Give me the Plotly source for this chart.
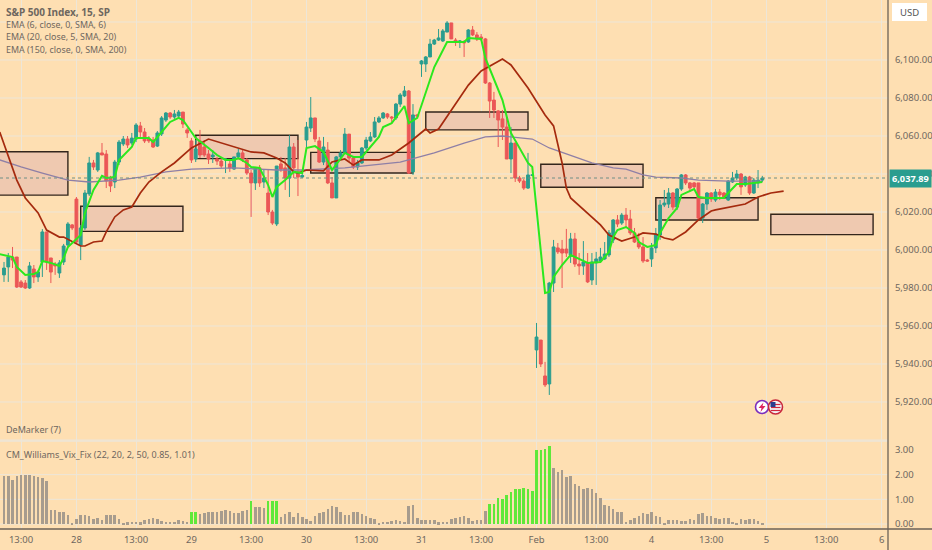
import plotly.graph_objects as go

# ---------- candles: one entry per 15-minute bar, in index points ----------
opens = [5986.9,5991.1,5996.3,5996.3,5983.2,5982.6,5980,5990,5985.8,5993.7,6009.5,5995.8,5992.6,5987.9,5993.7,6002.6,6013.2,6026.8,6002.6,6011.6,
6029.5,6045.8,6042.1,6051.1,6050.5,6037.9,6035.8,6046.3,6055.8,6058.4,6056.3,6058.4,6065.3,6062.1,6058.4,6057.9,6054.7,6061.1,6068.4,6072.1,
6070,6070.5,6072.6,6063.2,6057.4,6047.9,6057.4,6054.2,6050.5,6049,6047.9,6046.8,6047.4,6045.3,6042.6,6049,6051.1,6047.4,6040.5,6035.3,
6043.2,6035.8,6030,6020,6013.7,6045.3,6043.2,6037.9,6054.2,6041.1,6038.4,6057.9,6064.2,6069.5,6057.4,6046.3,6052.6,6035.3,6027.4,6049,
6051.1,6061,6048.4,6043.7,6045.8,6053.7,6057.4,6059.5,6067.4,6069.5,6071.6,6070,6069.5,6076.8,6081.1,6083.7,6041.1,6071.1,6097.9,6097.9,
6101.6,6108.4,6110.5,6110,6114.7,6119.5,6110.5,6109.5,6109.7,6109.5,6115.8,6113.2,6112.1,6111.1,6087.9,6078.9,6073.2,6069,6064.7,6047.9,
6056.3,6037.9,6036.3,6032.6,6039.3,5947.4,5952.6,5933.7,5929.5,5982.6,6001.1,6000.5,6000.5,5997.4,6005.8,5992.6,5991.6,5993.2,5984.2,5993.2,
5994.2,5995.3,5997.4,6005.3,6015.8,6014.2,6018.4,6016.3,6009,6004.2,6001.6,5994.7,5995.3,6001.1,6007.9,6023.7,6024.2,6030,6022.6,6032.1,
6039.5,6035.3,6035.3,6035.3,6016.8,6024.2,6030,6026.3,6030.5,6030,6026.3,6035.8,6037.9,6040,6034.2,6038.4,6030,6035.3,6036.8]
highs = [5993.7,5998.4,6001.6,5996.3,5984.2,5984.2,5993.7,5992.1,5989.5,6011,6009.5,5995.8,5993.7,5994.7,6003.2,6014.7,6013.7,6027.9,6013.2,6031.6,
6049,6047.4,6051.6,6056.3,6052.6,6039,6047.4,6057.9,6060,6060,6061.6,6066.8,6067.4,6064.2,6060,6059.5,6062.6,6070.5,6072.6,6072.6,
6073.7,6073.7,6072.6,6064.2,6059,6057.9,6063.2,6057.9,6052.6,6052.6,6049,6048.4,6048.4,6047.4,6049,6053.2,6052.6,6048.4,6042.1,6043.7,
6044.7,6042.1,6042.1,6021.1,6044.2,6049,6048.4,6060.5,6056.3,6057.9,6041.1,6067.4,6080.5,6069.5,6059.5,6059.5,6056.8,6038.4,6049.5,6052.6,
6064.2,6061,6049.5,6047.4,6054.2,6059.5,6062.1,6070,6070.5,6072.6,6072.1,6070.5,6077.4,6082.6,6086.3,6084.2,6076.8,6071.6,6100,6102.1,
6111.1,6111.1,6116.3,6116.3,6120.5,6119.5,6111.6,6110.5,6110.5,6116.3,6117.9,6114.7,6113.7,6111.6,6088.4,6083.2,6073.7,6073.7,6069.5,6064.7,
6056.3,6039,6037.4,6051.1,6039.6,5961.6,5952.6,5941.1,5983.2,6005.3,6003.7,6005.3,6011.1,6009,6009,5998.4,6004.7,5998.4,5998.4,5999,
6001.1,6004.2,6010.5,6016.3,6018.4,6019.5,6022.1,6021.1,6011.6,6009,6006.8,5995.3,6003.7,6011.6,6026.3,6031.6,6032.6,6030.5,6032.6,6040,
6040,6035.8,6035.8,6035.3,6024.7,6030.5,6030.5,6032.1,6032.1,6030.5,6036.8,6041.1,6042.1,6040.5,6039,6039,6037.9,6042.1,6039]
lows = [5983.2,5983.2,5990.5,5980,5980,5979.5,5979.5,5982.6,5983.2,5985.8,5989.5,5982.6,5986.9,5985.3,5992.1,6001.1,6010.5,6003.7,5994.7,6010.5,
6028.4,6042.1,6041.1,6050,6032.6,6030.5,6032.6,6044.7,6054.7,6053.7,6055.3,6056.8,6059.5,6056.3,6056.3,6053.7,6054.2,6060,6067.4,6069,
6069,6069.5,6064.2,6059,6045.8,6046.3,6048.4,6049,6045.3,6045.8,6044.7,6043.2,6040.5,6041.1,6042.1,6047.9,6046.3,6039.5,6017.4,6031.6,
6033.2,6032.6,6018.4,6013.2,6012.6,6041.1,6031.6,6027.9,6037.9,6028.4,6037.9,6053.7,6062.1,6056.8,6045.8,6044.7,6034.7,6027.4,6027.4,6048.4,
6050.5,6046.3,6042.6,6042.1,6045.3,6052.6,6056.8,6059,6066.8,6069,6069,6067.4,6068.4,6075.3,6080.5,6040,6039.5,6070,6091.1,6093.7,
6101.6,6107.9,6110,6109.5,6114.7,6111.1,6107.4,6106.3,6101.6,6109,6112.6,6110,6110,6087.4,6069.5,6069.5,6054.2,6057.9,6047.9,6040.5,
6035.8,6035.3,6031.6,6032.1,6039.2,5937.9,5938.4,5927.9,5923.7,5977.9,5997.9,5980,5996.3,5993.2,5991.1,5986.9,5986.9,5982.6,5981.6,5981.6,
5993.2,5994.7,5996.3,6003.7,6012.1,6013.2,6012.1,6007.9,6003.7,6000.5,5993.2,5993.7,5991.1,5998.4,6005.3,6022.6,6022.1,6021.1,6021.1,6031.1,
6034.2,6030.5,6031.6,6016.3,6014.2,6021.1,6025.3,6025.3,6026.3,6026.8,6025.8,6035.3,6036.8,6029,6033.2,6029,6029.5,6032.6,6035.8]
closes = [5990.5,5996.3,5994.7,5980.5,5980.5,5980,5991.6,5985.8,5988.4,6009.5,5993.7,5988.4,5991.6,5993.2,6002.1,6013.7,6011.6,6004.2,6011.6,6030,
6045.8,6043.7,6051.1,6050,6036.3,6033.7,6046.3,6056.8,6058.4,6055.3,6058.9,6065.8,6062.1,6057.4,6057.4,6054.2,6061.6,6069.5,6072.1,6070,
6071.6,6072.6,6066.3,6061.6,6047.4,6053.2,6050,6050,6047.9,6050,6046.8,6044.2,6047.9,6043.2,6049,6051.1,6047.9,6040.5,6035.3,6043.2,
6035.3,6037.9,6020,6014.2,6044.2,6042.6,6037.9,6054.2,6043.2,6038.4,6039.2,6064.7,6069.5,6058.4,6046.3,6054.2,6035.3,6027.4,6049,6051.1,
6061,6048.4,6043.7,6045.8,6053.7,6057.9,6059.5,6067.4,6069.5,6072.1,6070,6069.5,6076.8,6081.6,6083.7,6040.5,6071.1,6070.5,6099.5,6101.6,
6108.4,6110.5,6111.6,6115.3,6119.5,6111.1,6109.5,6110,6109,6115.8,6113.2,6111.1,6111.1,6087.9,6078.4,6073.7,6068.4,6064.7,6047.9,6056.3,
6037.9,6036.3,6032.6,6039.5,6039.5,5954.2,5940,5929,5982.6,6001.6,5999,5998.4,5998.4,6005.8,5992.6,5991.6,5993.7,5983.2,5993.7,5995.3,
5996.3,5997.9,6009,6015.8,6013.7,6018.4,6015.8,6009,6004.2,6001.6,5994.2,5994.2,6001.1,6008.4,6023.7,6024.7,6030,6022.6,6032.1,6039.5,
6035.3,6032.6,6033.2,6016.8,6024.2,6030,6026.8,6030.5,6029,6027.9,6036.3,6037.9,6040,6033.2,6038.4,6030,6036.8,6036.8,6037.89]

# ---------- moving averages (bar index, price) ----------
ema6_bars = [-1,2,3,5,7,8,9,11,13,14,15,18,19,21,23,24,26,27,30,31,34,35,37,39,41,42,44,45,48,50,52,54,55,57,58,60,62,63,64,66,68,70,71,73,75,77,80,82,84,88,89,91,94,95,97,101,104,108,109,112,113,117,119,123,124,127,128,129,131,133,137,140,142,143,144,146,148,149,151,153,154,156,158,159,162,163,165,169,170,172,174,178]
ema6_vals = [5997.8,5996.3,5991.1,5986.9,5987.4,5988.4,5994.2,5993.2,5991.6,5995.8,6001.6,6007.9,6019.5,6031.6,6039,6037.9,6038.4,6047.4,6054.2,6058.9,6058.9,6056.8,6062.1,6067.4,6069.5,6068.4,6062.1,6058.9,6053.7,6050,6047.4,6047.4,6048.4,6045.8,6043.7,6043.2,6034.2,6027.9,6033.2,6036.8,6041.1,6040.5,6053.7,6054.7,6051.6,6042.1,6051.1,6049,6049,6059.5,6064.7,6066.8,6075.8,6066.8,6069.5,6096.3,6109.5,6109.5,6111.6,6111.1,6101,6078.9,6061.6,6045.8,6043.7,5977.4,5977.9,5985.8,5992.1,5997.4,5993.2,5993.7,5999,6006.8,6010.5,6012.1,6009,6004.2,6001.6,6002.6,6009,6016.8,6022.1,6029,6032.1,6027.9,6027.4,6027.4,6030,6034.7,6034.7,6035.8]
ema20_bars = [-1,1,3,5,8,10,13,14,18,19,21,23,24,26,28,30,32,34,37,40,44,48,51,54,58,61,64,66,68,69,71,75,77,80,82,84,88,91,95,99,100,102,109,112,117,119,123,127,129,131,132,133,138,140,142,145,148,150,153,155,157,160,163,166,167,170,174,177,180,183]
ema20_vals = [6062.1,6049,6036.8,6027.4,6019.5,6010.5,6006.8,6006.8,6002.1,6002.1,6004.2,6004.7,6009.5,6017.4,6021.1,6022.6,6030,6035.8,6041.1,6045.8,6053.7,6058.4,6056.3,6054.2,6051.6,6051.1,6048.4,6045.8,6041.1,6040.5,6042.1,6041.6,6046.3,6047.9,6044.7,6047.4,6047.4,6050,6056.3,6063.7,6061.6,6063.7,6086.8,6094.2,6100.5,6097.4,6085.3,6071.1,6065.3,6045.8,6032.6,6027.4,6017.4,6013.2,6007.9,6004.7,6006.8,6009,6008.4,6006.3,6005.3,6009.5,6015.8,6020.5,6021.1,6022.6,6024.2,6027.9,6030,6031]
ema150_bars = [-1,4,9,15,20,27,32,38,44,54,64,70,80,93,101,108,113,117,124,128,138,143,146,150,153,159,163,170,178]
ema150_vals = [6047.4,6043.7,6040.5,6036.8,6035.8,6036.8,6038.4,6041.1,6042.6,6043.2,6042.1,6042.1,6043.2,6046.3,6051.1,6056.3,6059.5,6060,6058.4,6053.7,6045.8,6043.2,6042.6,6039.5,6038.4,6037.9,6036.8,6036.3,6036.3]

# ---------- Vix fix histogram ----------
vix_vals = [1.96,1.96,1.8,1.96,1.97,2,2,1.96,1.91,1.85,1.76,.57,.55,.5,.47,.37,.03,.2,.35,.35,.31,.2,.24,.16,.35,.37,.35,.2,.03,.07,.1,.1,.07,.17,.2,.23,.2,.13,.1,.1,.1,.16,.13,.09,
.47,.47,.4,.44,.47,.47,.49,.53,.55,.53,.44,.44,.53,.56,.93,.71,.68,.64,.93,.93,.93,
.27,.4,.48,.29,.45,.27,.2,.12,.31,.44,.47,.6,.72,.68,.47,.37,.36,.49,.47,.39,.31,.24,.21,.04,.09,.09,.13,.16,.11,.09,.72,.76,.23,.15,.15,.15,.15,.07,.09,.09,.2,.23,.28,.31,.25,
.12,.15,.16,.53,.83,.8,1.07,1,1.19,1.31,1.4,1.4,1.47,1.43,1.32,2.99,2.99,3.04,3.15,2.27,2.09,2.2,1.89,1.95,1.63,1.53,1.43,1.44,1.4,1.24,1.07,.77,.73,.6,.47,.49,.09,.17,.25,.31,.43,.41,.47,.33,.27,.04,.16,.16,.16,.13,.11,.19,.15,.4,.43,.32,.32,.23,.2,.24,.25,.09,.05,.19,.17,.2,.2,.13,.05]
vix_high_bars = [44,45,58,62,63,64,114,115,116,117,118,119,120,121,122,123,124,125,126,127,128]

# ---------- zones (start bar, end bar, upper price, lower price) ----------
zone_start = [-9,18,45,72,99,126,153,180]
zone_end = [15,42,69,96,123,150,177,204]
zone_top = [6051.7,6023.0,6060.4,6051.4,6072.6,6045.1,6027.5,6018.8]
zone_bottom = [6028.9,6009.8,6048.1,6040.5,6063.2,6033.0,6015.8,6008.1]

# ---------- axis labels ----------
date_ticks = [4,17,31,44,58,71,85,98,112,125,139,152,166,179,193,206]
date_labels = ["13:00","28","13:00","29","13:00","30","13:00","31","13:00","Feb","13:00","4","13:00","5","13:00","6"]
price_ticks = [5920,5940,5960,5980,6000,6020,6040,6060,6080,6100]
price_labels = ["5,920.00","5,940.00","5,960.00","5,980.00","6,000.00","6,020.00","6,040.00","6,060.00","6,080.00","6,100.00"]
price_grid = [5900,5920,5940,5960,5980,6000,6020,6040,6060,6080,6100,6120]
vix_ticks = [0,1,2,3]
vix_labels = ["0.00","1.00","2.00","3.00"]
vix_grid = [0,1,2]
last_price = 6037.89
legend_lines = ["S&P 500 Index, 15, SP","EMA (6, close, 0, SMA, 6)","EMA (20, close, 5, SMA, 20)","EMA (150, close, 0, SMA, 200)"]
pane_titles = ["DeMarker (7)","CM_Williams_Vix_Fix (22, 20, 2, 50, 0.85, 1.01)"]

# ---------- styling ----------
W, H = 932, 550
BG = "#FEDFB2"
GRID = "#EDE6D8"
TEAL = "#2A9D8F"
RED = "#EB5757"
TEXT = "#6E675F"
AXIS = "#6B6257"
FONT = "Noto Sans, sans-serif"

def px(x):
    return x / W

def py(y):
    return 1 - y / H

bars = list(range(len(closes)))
fig = go.Figure()
fig.add_trace(go.Scatter(x=ema150_bars, y=ema150_vals, mode="lines", line=dict(color="#8E7FA6", width=1.3), hoverinfo="skip", showlegend=False))
fig.add_trace(go.Candlestick(x=bars, open=opens, high=highs, low=lows, close=closes,
                             increasing=dict(line=dict(color=TEAL, width=1), fillcolor=TEAL),
                             decreasing=dict(line=dict(color=RED, width=1), fillcolor=RED),
                             whiskerwidth=0, hoverinfo="skip", showlegend=False))
fig.add_trace(go.Scatter(x=ema20_bars, y=ema20_vals, mode="lines", line=dict(color="#A52A0E", width=1.7), hoverinfo="skip", showlegend=False))
fig.add_trace(go.Scatter(x=ema6_bars, y=ema6_vals, mode="lines", line=dict(color="#2BE81E", width=2), hoverinfo="skip", showlegend=False))
fig.add_trace(go.Bar(x=bars, y=vix_vals, yaxis="y2", width=0.6,
                     marker=dict(color=["#5FE83A" if i in vix_high_bars else "#A79C8E" for i in bars], line=dict(width=0)),
                     hoverinfo="skip", showlegend=False))

shapes = []
for v in vix_grid:
    shapes.append(dict(type="line", xref="paper", x0=0, x1=px(888), yref="y2", y0=v, y1=v, line=dict(color=GRID, width=1), layer="below"))
shapes.append(dict(type="line", xref="paper", x0=0, x1=px(888), yref="paper", y0=py(441), y1=py(441), line=dict(color=GRID, width=1.5), layer="below"))
for v in price_grid:
    shapes.append(dict(type="line", xref="paper", x0=0, x1=px(888), yref="y", y0=v, y1=v, line=dict(color=GRID, width=1), layer="below"))
for s, e, t, b in zip(zone_start, zone_end, zone_top, zone_bottom):
    shapes.append(dict(type="rect", xref="x", yref="y", x0=s, x1=e, y0=b, y1=t,
                       fillcolor="#EFC9B0", line=dict(color="#33261C", width=1.4), layer="between"))
shapes.append(dict(type="line", xref="paper", x0=0, x1=px(888), yref="y", y0=last_price, y1=last_price, line=dict(color="#6F8F86", width=1, dash="dot")))
shapes.append(dict(type="line", xref="paper", yref="paper", x0=px(888), x1=px(888), y0=0, y1=1, line=dict(color=AXIS, width=1.3)))
shapes.append(dict(type="line", xref="paper", yref="paper", x0=0, x1=1, y0=py(529), y1=py(529), line=dict(color=AXIS, width=1.3)))
shapes.append(dict(type="rect", xref="paper", yref="paper", x0=px(892), x1=px(927), y0=py(21), y1=py(3), fillcolor="#FFFFFF", line=dict(width=0)))
shapes.append(dict(type="circle", xref="paper", yref="paper", x0=px(755.5), x1=px(768.5), y0=py(413.5), y1=py(400.5), fillcolor="#FFFFFF", line=dict(color="#7B2FBE", width=1.6)))
shapes.append(dict(type="path", xref="paper", yref="paper",
                   path=f"M {px(763.5)} {py(402.5)} L {px(758.5)} {py(408)} L {px(761.5)} {py(408)} L {px(760.5)} {py(412)} L {px(765.5)} {py(406)} L {px(762.5)} {py(406)} Z",
                   fillcolor="#E0245E", line=dict(width=0)))
shapes.append(dict(type="circle", xref="paper", yref="paper", x0=px(768.5), x1=px(782.5), y0=py(414), y1=py(400), fillcolor="#F4F4F4", line=dict(color="#C8283C", width=1.6)))
for yy in (404.5, 407.5, 410.5):
    shapes.append(dict(type="line", xref="paper", yref="paper", x0=px(771), x1=px(780.5), y0=py(yy), y1=py(yy), line=dict(color="#D3273E", width=1.2)))
shapes.append(dict(type="rect", xref="paper", yref="paper", x0=px(770.5), x1=px(775.5), y0=py(407), y1=py(402), fillcolor="#2A3F8F", line=dict(width=0)))

annotations = []
for i, (txt, yy) in enumerate(zip(legend_lines, [12, 25, 37, 49])):
    annotations.append(dict(text=("<b>" + txt + "</b>") if i == 0 else txt, xref="paper", yref="paper", x=px(4), y=py(yy),
                            xanchor="left", yanchor="middle", showarrow=False, font=dict(family=FONT, size=10 if i == 0 else 8.9, color=TEXT)))
for txt, yy in zip(pane_titles, [429, 454]):
    annotations.append(dict(text=txt, xref="paper", yref="paper", x=px(4), y=py(yy), xanchor="left", yanchor="middle",
                            showarrow=False, font=dict(family=FONT, size=9, color=TEXT)))
annotations.append(dict(text="USD", xref="paper", yref="paper", x=px(909.5), y=py(12), xanchor="center", yanchor="middle",
                        showarrow=False, font=dict(family=FONT, size=9.5, color="#555555")))
annotations.append(dict(text="<b>6,037.89</b>", xref="paper", yref="y", x=px(889), y=last_price, xanchor="left", yanchor="middle",
                        showarrow=False, bgcolor=TEAL, borderpad=2, font=dict(family=FONT, size=9.2, color="#FFFFFF")))

fig.update_layout(
    width=W, height=H, autosize=False,
    margin=dict(l=0, r=0, t=0, b=0, pad=0),
    paper_bgcolor=BG, plot_bgcolor=BG,
    showlegend=False, bargap=0, boxgap=0.05, hovermode=False,
    font=dict(family=FONT, size=10, color=TEXT),
    xaxis=dict(domain=[0, 888 / W], range=[-0.94, 207.5], anchor="y2", showline=False, zeroline=False,
               tickmode="array", tickvals=date_ticks, ticktext=date_labels, ticks="outside", ticklen=2, tickcolor="rgba(0,0,0,0)",
               tickfont=dict(family=FONT, size=9.5, color=TEXT), showgrid=True, gridcolor=GRID, gridwidth=1,
               rangeslider=dict(visible=False)),
    yaxis=dict(domain=[py(441), 1], range=[5899.47, 6131.58], side="right", anchor="x", showline=False, zeroline=False,
               tickmode="array", tickvals=price_ticks, ticktext=price_labels, ticks="outside", ticklen=4, tickcolor="rgba(0,0,0,0)",
               tickfont=dict(family=FONT, size=9.5, color=TEXT), showgrid=False),
    yaxis2=dict(domain=[py(529), py(441)], range=[-0.2, 3.36], side="right", anchor="x", showline=False, zeroline=False,
                tickmode="array", tickvals=vix_ticks, ticktext=vix_labels, ticks="outside", ticklen=4, tickcolor="rgba(0,0,0,0)",
                tickfont=dict(family=FONT, size=9.5, color=TEXT), showgrid=False),
    shapes=shapes, annotations=annotations,
)

fig.write_html("out.html", config=dict(displayModeBar=False, responsive=False),
               post_script="var s=document.documentElement.style;s.overflow='hidden';s.margin='0';document.body.style.margin='0';document.body.style.overflow='hidden';var g=document.querySelector('.plotly-graph-div');g.style.position='fixed';g.style.left='0';g.style.top='0';")
